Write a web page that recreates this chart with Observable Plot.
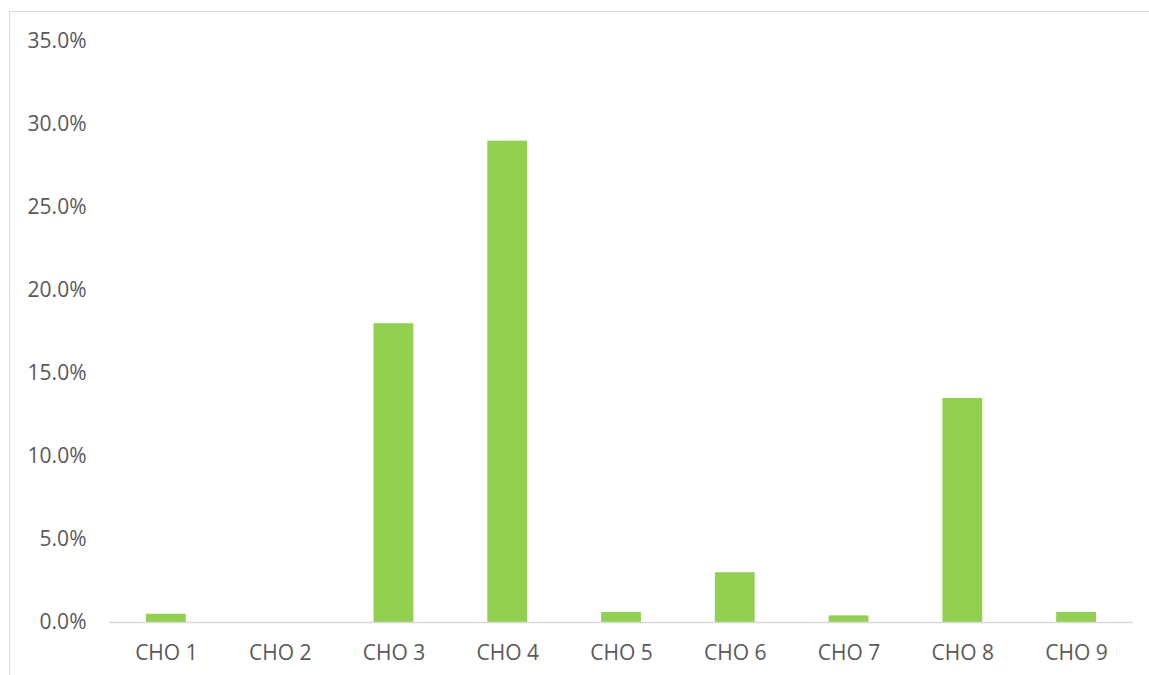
<!DOCTYPE html>
<html>
<head>
<meta charset="utf-8">
<script src="https://cdn.jsdelivr.net/npm/d3@7"></script>
<script src="https://cdn.jsdelivr.net/npm/@observablehq/plot@0.6"></script>
<style>
  html, body { margin: 0; padding: 0; background: #ffffff; }
  #wrap { position: relative; width: 1149px; height: 675px; overflow: hidden; }
  #frame { position: absolute; left: 9px; top: 11px; width: 1200px; height: 700px;
           border-top: 1.5px solid #d9d9d9; border-left: 1.5px solid #d9d9d9; pointer-events: none; }
  svg text { font-family: "Open Sans", sans-serif; }
</style>
</head>
<body>
<div id="wrap"><div id="frame"></div></div>
<script>
const categories = ["CHO 1", "CHO 2", "CHO 3", "CHO 4", "CHO 5", "CHO 6", "CHO 7", "CHO 8", "CHO 9"];
const values = [0.005, 0, 0.18, 0.29, 0.006, 0.03, 0.004, 0.135, 0.006];
const yTicks = [0, 0.05, 0.10, 0.15, 0.20, 0.25, 0.30, 0.35];

const data = categories.map((c, i) => ({cat: c, value: values[i]}));

const chart = Plot.plot({
  width: 1149,
  height: 675,
  marginLeft: 109,
  marginRight: 16,
  marginTop: 41,
  marginBottom: 53,
  style: {fontFamily: "'Open Sans', sans-serif", fontSize: "21px", color: "#595959", background: "transparent"},
  x: {domain: categories, paddingInner: 0.65, paddingOuter: 0.325, round: false, label: null},
  y: {domain: [0, 0.35], label: null},
  marks: [
    Plot.barY(data, {x: "cat", y: "value", fill: "#92D050"}),
    Plot.ruleY([0], {stroke: "#d9d9d9", strokeWidth: 1.5}),
    Plot.axisX({tickSize: 0, tickPadding: 23, fill: "#595959", fontSize: 21, label: null}),
    Plot.axisY({ticks: yTicks, tickSize: 0, tickPadding: 23, fill: "#595959", fontSize: 21,
                tickFormat: d => (d * 100).toFixed(1) + "%", label: null})
  ]
});
chart.style.position = "absolute";
chart.style.left = "0px";
chart.style.top = "0px";
document.getElementById("wrap").prepend(chart);
</script>
</body>
</html>
